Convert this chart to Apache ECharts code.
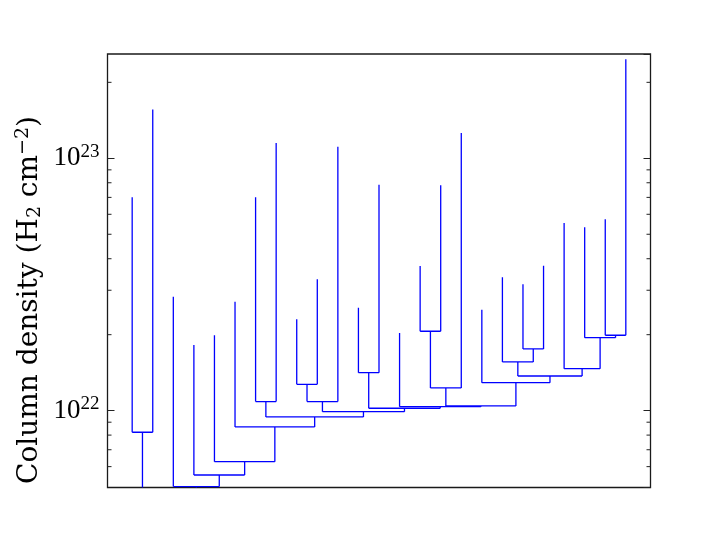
<!DOCTYPE html>
<html>
<head>
<meta charset="utf-8">
<script src="https://cdn.jsdelivr.net/npm/echarts@6/dist/echarts.min.js"></script>
<style>
html, body { margin: 0; padding: 0; background: #fff; }
#chart { width: 723px; height: 542px; }
</style>
</head>
<body>
<div id="chart"></div>
<script>
// peak column density of every leaf, left to right (leaf i sits at x = i)
const leafPeaks = [7.01e22, 1.56e23, 2.83e22, 1.82e22, 1.99e22, 2.70e22, 7.01e22, 1.15e23, 2.30e22,
    3.32e22, 1.11e23, 2.56e22, 7.86e22, 2.03e22, 3.74e22, 7.82e22, 1.26e23, 2.51e22, 3.38e22,
    3.17e22, 3.75e22, 5.54e22, 5.33e22, 5.73e22, 2.47e23];
// merges: ids 0..24 are the leaves, merge k gets id 25 + k
const mergeLeft = [0, 6, 8, 27, 11, 14, 30, 19, 18, 23, 22, 21, 33, 17, 31, 13, 29, 28, 26, 5, 4, 3, 2, 25];
const mergeRight = [1, 7, 9, 10, 12, 15, 16, 20, 32, 24, 34, 35, 36, 37, 38, 39, 40, 41, 42, 43, 44, 45, 46, 47];
const mergeLevels = [8.21e21, 1.086e22, 1.272e22, 1.086e22, 1.414e22, 2.064e22, 1.230e22, 1.756e22,
    1.560e22, 1.990e22, 1.946e22, 1.467e22, 1.372e22, 1.291e22, 1.044e22, 1.037e22, 1.022e22,
    9.91e21, 9.44e21, 8.62e21, 6.28e21, 5.56e21, 5.00e21, 4.5e21];
const minorTicks = [6e21, 7e21, 8e21, 9e21, 2e22, 3e22, 4e22, 5e22, 6e22, 7e22, 8e22, 9e22, 2e23];
const yMin = 4.96e21, yMax = 2.59e23;
const xMin = -1.2, xMax = 25.2;

// x of a branch = middle of its two children, base = level where it joins its parent
const n = leafPeaks.length;
const xPos = leafPeaks.map((v, i) => i);
const topLevel = leafPeaks.slice();
const baseLevel = [];
const spanL = xPos.slice(), spanR = xPos.slice();
mergeLeft.forEach((a, k) => {
    const b = mergeRight[k], id = n + k;
    xPos[id] = (xPos[a] + xPos[b]) / 2;
    topLevel[id] = mergeLevels[k];
    spanL[id] = xPos[a];
    spanR[id] = xPos[b];
    baseLevel[a] = mergeLevels[k];
    baseLevel[b] = mergeLevels[k];
});
const treeData = xPos.map((x, id) => [x, baseLevel[id] || topLevel[id], topLevel[id], spanL[id], spanR[id]]);

const serif = 'Liberation Serif';
const lineStyle = { stroke: '#0000ff', lineWidth: 1.3, fill: null };

let myChart = echarts.init(document.getElementById('chart'));
let option = {
    animation: false,
    backgroundColor: '#fff',
    grid: { left: 107.5, right: 72.5, top: 54, bottom: 54.5, show: true, borderColor: '#1a1a1a', borderWidth: 1.3 },
    xAxis: { type: 'value', min: xMin, max: xMax, show: false },
    yAxis: [
        {
            type: 'log', logBase: 10, min: yMin, max: yMax,
            axisLine: { show: false, onZero: false },
            splitLine: { show: false },
            axisTick: { inside: true, length: 7, lineStyle: { color: '#222', width: 1 } },
            axisLabel: {
                margin: 8, showMinLabel: false, showMaxLabel: false,
                formatter: v => '{b|10}{s|' + Math.round(Math.log10(v)) + '}',
                rich: {
                    b: { fontFamily: serif, fontSize: 27, color: '#000' },
                    s: { fontFamily: serif, fontSize: 19, color: '#000', padding: [0, 0, 13, 0] }
                }
            }
        },
        {
            type: 'log', logBase: 10, min: yMin, max: yMax, position: 'right',
            axisLine: { show: false, onZero: false },
            splitLine: { show: false },
            axisLabel: { show: false },
            axisTick: { inside: true, length: 7, lineStyle: { color: '#222', width: 1 } }
        }
    ],
    graphic: [{
        type: 'text', x: 30, y: 300, rotation: Math.PI / 2,
        style: {
            text: '{m|Column density (H}{sub|2}{m| cm}{sup|−2}{m|)}',
            align: 'center', verticalAlign: 'middle',
            rich: {
                m: { fontFamily: 'DejaVu Serif', fontSize: 28, fill: '#000' },
                sub: { fontFamily: 'DejaVu Serif', fontSize: 19, fill: '#000', padding: [10, 0, 0, 0] },
                sup: { fontFamily: 'DejaVu Serif', fontSize: 19, fill: '#000', padding: [0, 0, 14, 0] }
            }
        }
    }],
    series: [
        {
            type: 'custom', clip: true,
            data: treeData,
            encode: { x: 0, y: 2 },
            renderItem: (params, api) => {
                const p0 = api.coord([api.value(0), api.value(1)]);
                const p1 = api.coord([api.value(0), api.value(2)]);
                const l = api.coord([api.value(3), api.value(2)]);
                const r = api.coord([api.value(4), api.value(2)]);
                return {
                    type: 'group',
                    children: [
                        { type: 'line', shape: { x1: p0[0], y1: p0[1], x2: p1[0], y2: p1[1] }, style: lineStyle },
                        { type: 'line', shape: { x1: l[0], y1: l[1], x2: r[0], y2: r[1] }, style: lineStyle }
                    ]
                };
            }
        },
        {
            // matplotlib style minor ticks on both sides
            type: 'custom', silent: true,
            data: minorTicks.map(v => [0, v]),
            encode: { x: 0, y: 1 },
            renderItem: (params, api) => {
                const cs = params.coordSys;
                const y = api.coord([0, api.value(1)])[1];
                const st = { stroke: '#222', lineWidth: 1, fill: null };
                return {
                    type: 'group',
                    children: [
                        { type: 'line', shape: { x1: cs.x, y1: y, x2: cs.x + 4, y2: y }, style: st },
                        { type: 'line', shape: { x1: cs.x + cs.width - 4, y1: y, x2: cs.x + cs.width, y2: y }, style: st }
                    ]
                };
            }
        }
    ]
};
option && myChart.setOption(option);
</script>
</body>
</html>
